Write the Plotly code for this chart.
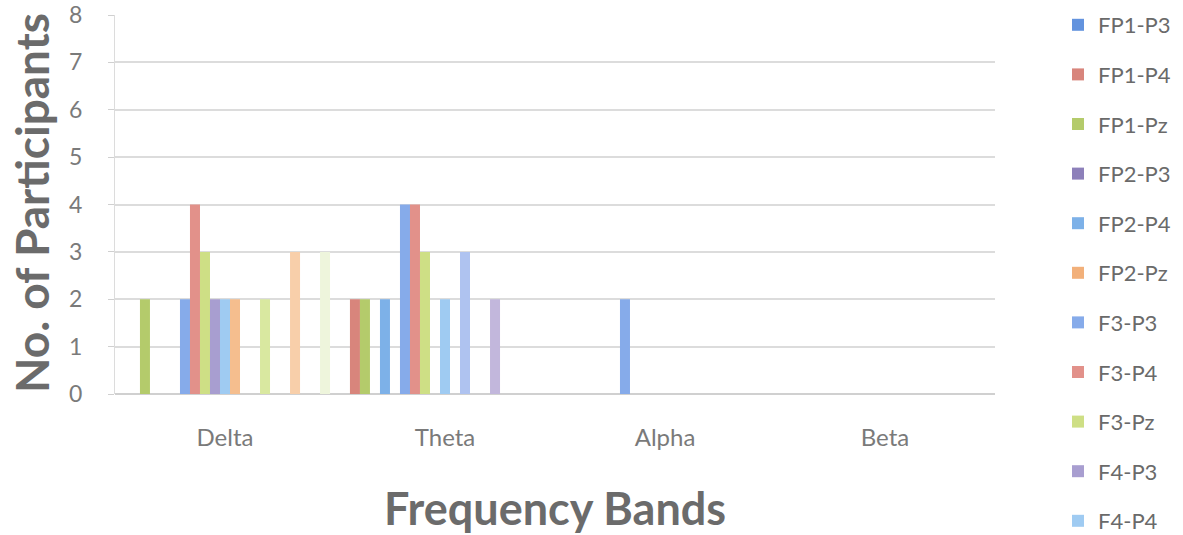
import plotly.graph_objects as go

categories = ["Delta", "Theta", "Alpha", "Beta"]

series_names = [
    "FP1-P3", "FP1-P4", "FP1-Pz", "FP2-P3", "FP2-P4", "FP2-Pz",
    "F3-P3", "F3-P4", "F3-Pz", "F4-P3", "F4-P4", "F4-Pz",
    "C3-P3", "C3-P4", "C3-Pz", "C4-P3", "C4-P4", "C4-Pz",
    "Fz-P3", "Fz-P4", "Fz-Pz",
]
legend_visible_count = 11

delta = [0, 0, 2, 0, 0, 0, 2, 4, 3, 2, 2, 2, 0, 0, 2, 0, 0, 3, 0, 0, 3]
theta = [0, 2, 2, 0, 2, 0, 4, 4, 3, 0, 2, 0, 3, 0, 0, 2, 0, 0, 0, 0, 0]
alpha = [0, 0, 0, 0, 0, 0, 2, 0, 0, 0, 0, 0, 0, 0, 0, 0, 0, 0, 0, 0, 0]
beta = [0] * 21

colors = [
    "#6393DE", "#D8857C", "#B4CB6B", "#8D80BA", "#7DB1E8", "#F2B07A",
    "#86ABEA", "#E2918A", "#CEDF85", "#A89ED0", "#9FCBF2", "#F5BE8E",
    "#AFC3F0", "#EBB0A9", "#D9E8A0", "#C2B7DC", "#BCDDF5", "#F8CFAA",
    "#D2DEF7", "#F3D3CE", "#EEF5DC",
]

fig = go.Figure()
for i, name in enumerate(series_names):
    vals = [delta[i], theta[i], alpha[i], beta[i]]
    fig.add_trace(go.Bar(
        x=categories, y=vals, name=name,
        marker=dict(color=colors[i], line=dict(width=0)),
        legendgroup=name,
        showlegend=i < legend_visible_count,
    ))

font_family = "Lato, 'Open Sans', sans-serif"
plot_h = 535 - 15 - 141
fig.update_layout(
    width=1183, height=535,
    margin=dict(l=115, r=188, t=15, b=141, autoexpand=False),
    paper_bgcolor="white", plot_bgcolor="white",
    barmode="group", bargap=0.045, bargroupgap=0,
    font=dict(family=font_family, color="#707070"),
    legend=dict(
        x=1.0716, y=(394 - 4) / plot_h, xanchor="left", yanchor="top",
        font=dict(size=22, color="#6a6a6a"),
        tracegroupgap=18, itemwidth=30,
        maxheight=700,
        bgcolor="rgba(0,0,0,0)",
    ),
    xaxis=dict(
        automargin=False,
        showgrid=False, showline=False, ticks="",
        tickfont=dict(size=24, color="#7a7a7a"),
        ticklabelstandoff=27,
        title=dict(text="<b>Frequency Bands</b>", font=dict(size=45, color="#6b6b6b"), standoff=44),
    ),
    yaxis=dict(
        automargin=False,
        range=[0, 8], dtick=1,
        showgrid=True, gridcolor="#dcdcdc", gridwidth=1.5,
        showline=True, linecolor="#dcdcdc", linewidth=1,
        ticks="outside", ticklen=6, tickcolor="#d0d0d0",
        zeroline=True, zerolinecolor="#d0d0d0", zerolinewidth=2,
        tickfont=dict(size=23, color="#7a7a7a"),
        ticklabelstandoff=21,
        ticklabeloverflow="allow",
    ),
    annotations=[dict(
        text="<b>No. of Participants</b>", textangle=-90,
        xref="paper", yref="paper", x=(31 - 115) / 880, y=(394 - 203) / plot_h,
        xanchor="center", yanchor="middle", showarrow=False,
        font=dict(size=46, color="#6b6b6b"),
    )],
)

fig.write_html(
    "out.html",
    config={"displayModeBar": False},
    post_script="document.body.style.margin='0';",
)
